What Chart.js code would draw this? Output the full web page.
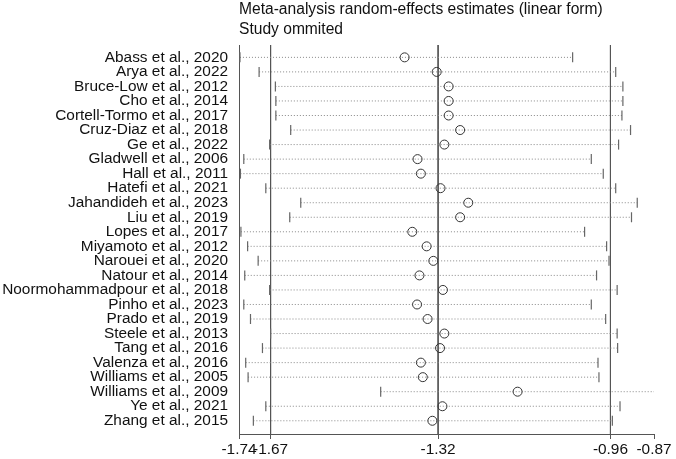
<!DOCTYPE html>
<html>
<head>
<meta charset="utf-8">
<script src="https://cdn.jsdelivr.net/npm/chart.js@4"></script>
<style>
  html, body { margin: 0; padding: 0; background: #fff; }
</style>
</head>
<body>
<canvas id="chart" width="676" height="459"></canvas>
<script>
const studies = [
  'Abass et al., 2020', 'Arya et al., 2022', 'Bruce-Low et al., 2012', 'Cho et al., 2014',
  'Cortell-Tormo et al., 2017', 'Cruz-Diaz et al., 2018', 'Ge et al., 2022', 'Gladwell et al., 2006',
  'Hall et al., 2011', 'Hatefi et al., 2021', 'Jahandideh et al., 2023', 'Liu et al., 2019',
  'Lopes et al., 2017', 'Miyamoto et al., 2012', 'Narouei et al., 2020', 'Natour et al., 2014',
  'Noormohammadpour et al., 2018', 'Pinho et al., 2023', 'Prado et al., 2019', 'Steele et al., 2013',
  'Tang et al., 2016', 'Valenza et al., 2016', 'Williams et al., 2005', 'Williams et al., 2009',
  'Ye et al., 2021', 'Zhang et al., 2015'
];
const lower = [
  -1.734, -1.694, -1.660, -1.659, -1.659, -1.628, -1.672, -1.726,
  -1.733, -1.680, -1.607, -1.630, -1.732, -1.718, -1.696, -1.724,
  -1.672, -1.726, -1.712, -1.670, -1.687, -1.722, -1.717, -1.440,
  -1.680, -1.706
];
const estimate = [
  -1.390, -1.323, -1.298, -1.298, -1.298, -1.274, -1.307, -1.363,
  -1.356, -1.315, -1.257, -1.274, -1.374, -1.344, -1.330, -1.359,
  -1.310, -1.364, -1.342, -1.307, -1.316, -1.356, -1.352, -1.154,
  -1.311, -1.332
];
const upper = [
  -1.039, -0.949, -0.934, -0.934, -0.936, -0.918, -0.943, -1.000,
  -0.975, -0.949, -0.904, -0.916, -1.014, -0.968, -0.963, -0.989,
  -0.946, -1.000, -0.970, -0.946, -0.945, -0.986, -0.984, -0.867,
  -0.940, -0.956
];
// combined estimate and its CI (reference lines)
const refLines = [-1.67, -1.32, -0.96];
const xTicks = [-1.736, -1.67, -1.32, -0.96, -0.869];

const font = { family: '"Liberation Sans", Arial, sans-serif', size: 15.4 };
const yMin = -0.85, yMax = 25.91;

const ciSegments = [];
const caps = [];
studies.forEach((s, i) => {
  ciSegments.push({ x: lower[i], y: i }, { x: upper[i], y: i }, { x: null, y: null });
  caps.push({ x: lower[i], y: i }, { x: upper[i], y: i });
});

const datasets = [
  {
    data: estimate.map((v, i) => ({ x: v, y: i })),
    pointStyle: 'circle', pointRadius: 4.5,
    borderColor: '#333', borderWidth: 1, backgroundColor: 'rgba(0,0,0,0)',
    order: 0
  },
  {
    data: caps,
    pointStyle: 'line', rotation: 90, pointRadius: 5,
    borderColor: '#666', borderWidth: 1.2,
    order: 1
  },
  {
    data: ciSegments,
    showLine: true, spanGaps: false, pointRadius: 0,
    borderColor: '#888', borderWidth: 1, borderDash: [1, 2],
    order: 2
  }
];
refLines.forEach(v => {
  datasets.push({
    data: [{ x: v, y: yMin }, { x: v, y: yMax }],
    showLine: true, pointRadius: 0,
    borderColor: '#555', borderWidth: 1,
    order: 3
  });
});

new Chart(document.getElementById('chart'), {
  type: 'scatter',
  data: { datasets },
  options: {
    responsive: false,
    animation: false,
    devicePixelRatio: 1,
    layout: { padding: { left: 0, right: 22, top: 0, bottom: 0 } },
    plugins: {
      legend: { display: false },
      tooltip: { enabled: false },
      title: {
        display: true,
        fullSize: false,
        align: 'start',
        text: ['Meta-analysis random-effects estimates (linear form)', 'Study ommited'],
        color: '#111',
        font: { ...font, size: 15.6, weight: 'normal', lineHeight: 1.25 },
        padding: { top: 0, bottom: 6 }
      }
    },
    scales: {
      x: {
        type: 'linear',
        min: xTicks[0],
        max: xTicks[xTicks.length - 1],
        afterBuildTicks: sc => { sc.ticks = xTicks.map(v => ({ value: v })); },
        afterFit: sc => { sc.height = 25; },
        ticks: {
          autoSkip: false, maxRotation: 0, minRotation: 0,
          color: '#111', font, padding: 2,
          callback: v => Number(v).toFixed(2)
        },
        grid: { drawOnChartArea: false, drawTicks: true, tickLength: 5, color: '#555' },
        border: { display: true, color: '#555' }
      },
      y: {
        type: 'linear',
        reverse: true,
        min: yMin,
        max: yMax,
        afterBuildTicks: sc => { sc.ticks = studies.map((s, i) => ({ value: i })); },
        afterFit: sc => { sc.width = 239; },
        ticks: {
          autoSkip: false, color: '#111', font, padding: 11,
          callback: v => studies[v] || ''
        },
        grid: { display: false, drawTicks: false },
        border: { display: true, color: '#555' }
      }
    }
  }
});
</script>
</body>
</html>
